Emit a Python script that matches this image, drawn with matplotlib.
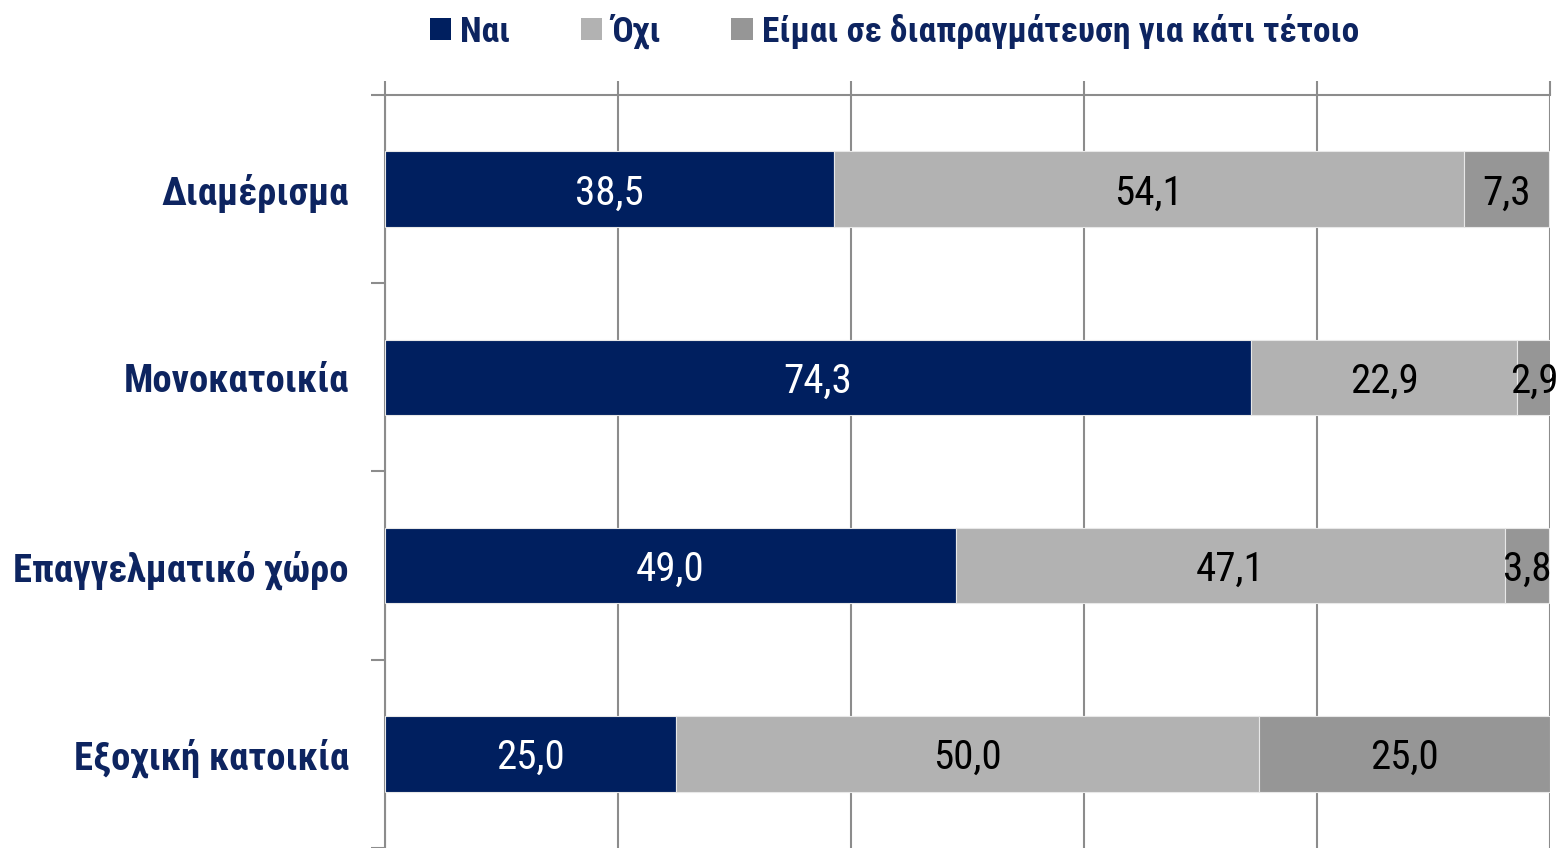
import matplotlib.pyplot as plt
import numpy as np

plt.rcParams['font.family'] = ['Roboto Condensed', 'Liberation Sans Narrow', 'DejaVu Sans']
plt.rcParams['font.stretch'] = 'condensed'

categories = ['Διαμέρισμα', 'Μονοκατοικία', 'Επαγγελματικό χώρο', 'Εξοχική κατοικία']
series_names = ['Ναι', 'Όχι', 'Είμαι σε διαπραγμάτευση για κάτι τέτοιο']
nai = [38.5, 74.3, 49.0, 25.0]
oxi = [54.1, 22.9, 47.1, 50.0]
diapr = [7.3, 2.9, 3.8, 25.0]

colors = ['#001F5F', '#B2B2B2', '#969696']
text_colors = ['white', 'black', 'black']
navy = '#0D2460'

fig = plt.figure(figsize=(15.58, 8.48), dpi=100)
ax = fig.add_axes([0.2471, 0.0, 0.7478, 0.888])

y = np.arange(len(categories))
left = np.zeros(len(categories))
handles = []
for vals, name, c, tc in zip([nai, oxi, diapr], series_names, colors, text_colors):
    bars = ax.barh(y, vals, left=left, height=0.4, color=c, edgecolor='#E8E8E8',
                   linewidth=0.8, label=name, zorder=3)
    handles.append(bars)
    for yi, l, v in zip(y, left, vals):
        ax.text(l + v / 2, yi + 0.02, f'{v:.1f}'.replace('.', ','), ha='center', va='center',
                color=tc, fontsize=29.5, zorder=4)
    left = left + np.array(vals)

ax.set_xlim(0, 100)
ax.set_ylim(3.5, -0.5)
ax.set_xticks([0, 20, 40, 60, 80, 100])
ax.xaxis.tick_top()
ax.tick_params(axis='x', length=10, width=1.5, color='#8C8C8C', labeltop=False)
ax.grid(axis='x', color='#8C8C8C', linewidth=1.5, zorder=0)

ax.set_yticks(y)
ax.set_yticklabels(categories, fontsize=27.8, fontweight='bold', color=navy)
ax.set_yticks([-0.5, 0.5, 1.5, 2.5, 3.5], minor=True)
ax.tick_params(axis='y', which='major', length=0, pad=26)
ax.tick_params(axis='y', which='minor', length=10, width=1.5, color='#8C8C8C')

for s in ['right', 'bottom']:
    ax.spines[s].set_visible(False)
for s in ['left', 'top']:
    ax.spines[s].set_color('#8C8C8C')
    ax.spines[s].set_linewidth(1.5)

leg = fig.legend(handles=handles, labels=series_names, loc='center', bbox_to_anchor=(0.574, 0.963),
                 ncol=3, frameon=False, handlelength=0.6, handleheight=0.6,
                 handletextpad=0.25, columnspacing=2.0, prop={'size': 25.5, 'weight': 'bold'})
for t in leg.get_texts():
    t.set_color(navy)
for h in leg.legend_handles:
    h.set_edgecolor('none')

fig.savefig('out.png', dpi=100)
